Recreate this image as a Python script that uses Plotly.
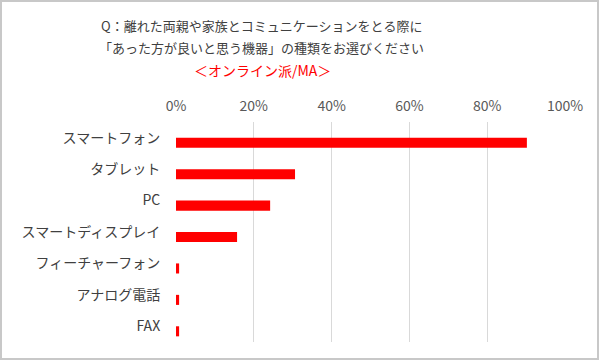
import plotly.graph_objects as go

categories = ["スマートフォン", "タブレット", "PC", "スマートディスプレイ", "フィーチャーフォン", "アナログ電話", "FAX"]
values = [90.2, 30.6, 24.2, 15.7, 0.8, 0.8, 0.8]
x_tick_vals = [0, 20, 40, 60, 80, 100]
x_tick_text = ["0%", "20%", "40%", "60%", "80%", "100%"]
title_lines = ["Q：離れた両親や家族とコミュニケーションをとる際に",
               "「あった方が良いと思う機器」の種類をお選びください"]
subtitle = "＜オンライン派/MA＞"

FONT = "Noto Sans CJK JP"
W, H = 600, 361
L, R, T, B = 176, 35, 122, 19
pw, ph = W - L - R, H - T - B

def px_x(x):
    return (x - L) / pw

def px_y(y):
    return (H - B - y) / ph

fig = go.Figure(go.Bar(
    x=values, y=categories, orientation="h",
    marker=dict(color="#ff0000", line=dict(width=0)),
    width=0.32, offset=0.0,
))

fig.update_layout(
    width=W, height=H,
    margin=dict(l=L, r=R, t=T, b=B),
    paper_bgcolor="white", plot_bgcolor="white",
    font=dict(family=FONT, size=14, color="#404040"),
    showlegend=False,
    xaxis=dict(
        side="top", range=[0, 100], tickvals=x_tick_vals, ticktext=x_tick_text,
        showgrid=True, gridcolor="#d9d9d9", gridwidth=1, zeroline=False,
        showline=False, ticks="outside", ticklen=4, tickcolor="rgba(0,0,0,0)",
        tickfont=dict(size=14, color="#595959"), fixedrange=True, automargin=False,
    ),
    yaxis=dict(
        autorange="reversed", showgrid=False, zeroline=False, showline=False,
        ticks="outside", ticklen=12, tickcolor="rgba(0,0,0,0)",
        tickfont=dict(size=14, color="#404040"), automargin=False,
    ),
    annotations=[
        dict(text=title_lines[0], x=px_x(261), y=px_y(25), xref="paper", yref="paper",
             showarrow=False, xanchor="center", yanchor="middle",
             font=dict(size=13, color="#404040", family=FONT)),
        dict(text=title_lines[1], x=px_x(261), y=px_y(48), xref="paper", yref="paper",
             showarrow=False, xanchor="center", yanchor="middle",
             font=dict(size=13, color="#404040", family=FONT)),
        dict(text=subtitle, x=px_x(262), y=px_y(70), xref="paper", yref="paper",
             showarrow=False, xanchor="center", yanchor="middle",
             font=dict(size=14, color="#ff0000", family=FONT)),
    ],
    shapes=[dict(type="rect", xref="paper", yref="paper",
                 x0=px_x(1), x1=px_x(598), y0=px_y(359), y1=px_y(1),
                 line=dict(color="#c8c8c8", width=2), layer="below")],
)

fig.write_html("out.html", config={"displayModeBar": False},
               post_script="document.body.style.margin='0';document.body.style.overflow='hidden';")
